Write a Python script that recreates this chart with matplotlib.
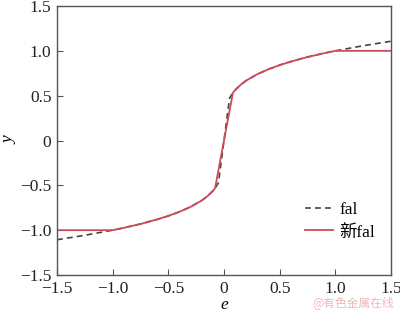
import matplotlib
matplotlib.use("Agg")
from matplotlib import pyplot as plt

# values
fal_e = [-1.5, -1.25, -1.0, -0.9, -0.75, -0.6, -0.5, -0.4, -0.3, -0.2, -0.15, -0.1, -0.08, -0.05,
         0.05, 0.08, 0.1, 0.15, 0.2, 0.3, 0.4, 0.5, 0.6, 0.75, 0.9, 1.0, 1.25, 1.5]
fal_y = [-1.107, -1.057, -1.0, -0.974, -0.931, -0.880, -0.841, -0.795, -0.740, -0.669, -0.622, -0.562, -0.532, -0.473,
         0.473, 0.532, 0.562, 0.622, 0.669, 0.740, 0.795, 0.841, 0.880, 0.931, 0.974, 1.0, 1.057, 1.107]

new_e = [-1.5, -1.25, -1.0, -0.9, -0.75, -0.6, -0.5, -0.4, -0.3, -0.2, -0.15, -0.1, -0.08,
         0.08, 0.1, 0.15, 0.2, 0.3, 0.4, 0.5, 0.6, 0.75, 0.9, 1.0, 1.25, 1.5]
new_y = [-1.0, -1.0, -1.0, -0.974, -0.931, -0.880, -0.841, -0.795, -0.740, -0.669, -0.622, -0.562, -0.532,
         0.532, 0.562, 0.622, 0.669, 0.740, 0.795, 0.841, 0.880, 0.931, 0.974, 1.0, 1.0, 1.0]

ticks = [-1.5, -1.0, -0.5, 0, 0.5, 1.0, 1.5]
tick_labels = ["\u22121.5", "\u22121.0", "\u22120.5", "0", "0.5", "1.0", "1.5"]

plt.rcParams["font.family"] = ["Liberation Serif", "Noto Sans CJK SC"]
plt.rcParams["font.size"] = 12.5

fig = plt.figure(figsize=(4.0, 3.13), dpi=100)
ax = fig.add_axes([0.1425, 0.1214, 0.835, 0.8594])

ax.plot(fal_e, fal_y, color="#444444", linestyle=(0, (3.5, 2.5)), linewidth=1.2, label="fal")
ax.plot(new_e, new_y, color="#cc4a5c", linewidth=1.3, label="新fal")

ax.set_xlim(-1.5, 1.5)
ax.set_ylim(-1.5, 1.5)
ax.set_xticks(ticks)
ax.set_xticklabels(tick_labels)
ax.set_yticks(ticks)
ax.set_yticklabels(tick_labels)
ax.tick_params(direction="in", length=4, color="#555555", labelcolor="#222222", pad=4)
for sp in ax.spines.values():
    sp.set_color("#555555")
    sp.set_linewidth(1.0)

ax.set_xlabel("e", fontstyle="italic", labelpad=0)
ax.set_ylabel("y", fontstyle="italic", labelpad=2)

ax.legend(loc="lower right", bbox_to_anchor=(1.0, 0.07), frameon=False,
          handlelength=1.6, handletextpad=0.4, labelspacing=0.35)

fig.text(0.985, 0.012, "@有色金属在线", color="#f0b8b8", fontsize=8.5, ha="right", va="bottom",
         family=["Noto Sans CJK SC"])

fig.savefig("out.png", dpi=100)
